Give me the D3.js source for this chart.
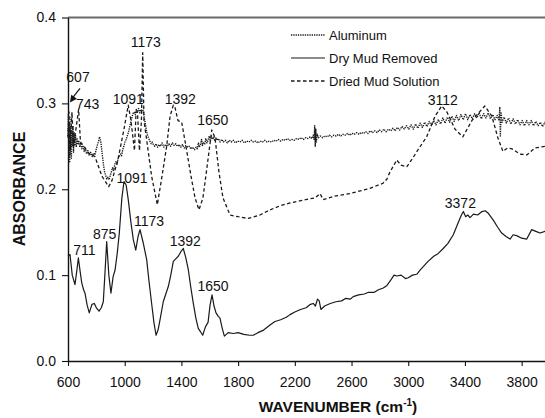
<!DOCTYPE html>
<html>
<head>
<meta charset="utf-8">
<script src="https://cdn.jsdelivr.net/npm/d3@7"></script>
<style>
  html, body { margin: 0; padding: 0; background: #fff; }
  svg { display: block; }
  text { font-family: "Liberation Sans", Arial, sans-serif; fill: #111; }
</style>
</head>
<body>
<svg id="chart" width="545" height="418"></svg>
<script>
// FTIR absorbance spectra: [wavenumber (cm-1), absorbance]
const aluminum = [
  [600,0.262],[603,0.288],[606,0.238],[609,0.279],[612,0.232],[615,0.272],[618,0.247],[621,0.284],[624,0.236],[627,0.268],
  [631,0.25],[635,0.274],[639,0.243],[643,0.266],[648,0.252],[653,0.263],[658,0.249],[664,0.26],[670,0.252],[676,0.257],
  [683,0.249],[690,0.254],[698,0.247],[706,0.251],[714,0.244],[722,0.248],[731,0.241],[740,0.245],[750,0.239],[760,0.243],
  [770,0.238],[780,0.242],[790,0.24],[800,0.247],[808,0.252],[816,0.256],[822,0.261],[828,0.258],[834,0.252],[842,0.24],
  [850,0.229],[858,0.22],[866,0.216],[874,0.212],[882,0.214],[890,0.211],[898,0.216],[906,0.22],[914,0.225],[922,0.222],
  [930,0.229],[938,0.232],[946,0.229],[954,0.236],[962,0.238],[970,0.241],[978,0.239],[986,0.246],[994,0.25],[1002,0.255],
  [1010,0.258],[1018,0.262],[1026,0.266],[1034,0.272],[1042,0.278],[1050,0.283],[1058,0.288],[1066,0.29],[1074,0.287],[1082,0.293],
  [1090,0.29],[1098,0.294],[1106,0.289],[1114,0.293],[1122,0.291],[1130,0.292],[1138,0.283],[1146,0.276],[1154,0.268],[1162,0.262],
  [1170,0.259],[1178,0.256],[1186,0.253],[1194,0.255],[1202,0.252],[1212,0.25],[1222,0.253],[1232,0.249],[1242,0.252],[1252,0.25],
  [1264,0.254],[1276,0.249],[1288,0.252],[1300,0.25],[1312,0.253],[1324,0.25],[1336,0.254],[1348,0.251],[1360,0.253],[1372,0.25],
  [1384,0.252],[1396,0.249],[1408,0.252],[1420,0.248],[1432,0.251],[1444,0.249],[1456,0.25],[1468,0.247],[1480,0.249],[1492,0.246],
  [1504,0.249],[1512,0.247],[1520,0.254],[1526,0.249],[1534,0.252],[1542,0.258],[1548,0.251],[1556,0.255],[1564,0.252],[1572,0.259],
  [1580,0.254],[1588,0.257],[1596,0.262],[1604,0.256],[1612,0.262],[1620,0.258],[1628,0.261],[1636,0.256],[1644,0.26],[1652,0.257],
  [1662,0.259],[1672,0.255],[1684,0.258],[1696,0.255],[1710,0.257],[1724,0.254],[1738,0.257],[1752,0.255],[1766,0.257],[1780,0.254],
  [1796,0.256],[1812,0.255],[1828,0.257],[1844,0.254],[1860,0.256],[1876,0.255],[1892,0.257],[1908,0.255],[1924,0.256],[1940,0.254],
  [1956,0.256],[1972,0.255],[1988,0.257],[2004,0.255],[2020,0.256],[2036,0.255],[2052,0.257],[2068,0.256],[2084,0.258],[2100,0.256],
  [2116,0.258],[2132,0.257],[2148,0.259],[2164,0.257],[2180,0.258],[2196,0.257],[2212,0.259],[2228,0.258],[2244,0.26],[2260,0.258],
  [2276,0.26],[2292,0.259],[2308,0.261],[2320,0.259],[2330,0.263],[2336,0.258],[2340,0.274],[2344,0.25],[2348,0.27],[2352,0.255],
  [2358,0.264],[2366,0.26],[2380,0.262],[2396,0.26],[2412,0.262],[2428,0.261],[2444,0.263],[2460,0.261],[2476,0.263],[2492,0.262],
  [2508,0.264],[2524,0.262],[2540,0.264],[2556,0.263],[2572,0.265],[2588,0.263],[2604,0.265],[2620,0.264],[2636,0.266],[2652,0.264],
  [2668,0.266],[2684,0.265],[2700,0.267],[2716,0.265],[2732,0.268],[2748,0.266],[2764,0.268],[2780,0.266],[2796,0.269],[2812,0.267],
  [2828,0.27],[2844,0.267],[2860,0.27],[2876,0.268],[2892,0.271],[2908,0.268],[2924,0.272],[2940,0.269],[2956,0.273],[2972,0.27],
  [2988,0.274],[3004,0.27],[3020,0.275],[3036,0.27],[3052,0.276],[3068,0.271],[3084,0.277],[3100,0.272],[3116,0.278],[3132,0.273],
  [3148,0.279],[3164,0.274],[3180,0.28],[3196,0.275],[3212,0.281],[3228,0.276],[3244,0.283],[3260,0.277],[3276,0.284],[3292,0.278],
  [3308,0.285],[3324,0.279],[3340,0.286],[3356,0.28],[3372,0.287],[3388,0.281],[3404,0.288],[3420,0.281],[3436,0.287],[3452,0.282],
  [3468,0.288],[3484,0.283],[3500,0.289],[3516,0.282],[3532,0.288],[3548,0.283],[3564,0.289],[3580,0.282],[3596,0.287],[3612,0.281],
  [3628,0.286],[3640,0.28],[3646,0.296],[3650,0.262],[3655,0.29],[3662,0.278],[3676,0.284],[3692,0.277],[3708,0.283],[3724,0.276],
  [3740,0.282],[3756,0.276],[3772,0.281],[3788,0.275],[3804,0.28],[3820,0.274],[3836,0.28],[3852,0.275],[3868,0.28],[3884,0.274],
  [3900,0.279],[3916,0.274],[3932,0.278],[3948,0.273],[3964,0.278],[3980,0.274],[4000,0.277]
];

const dryMudRemoved = [
  [600,0.122],[614,0.124],[630,0.1],[649,0.089],[662,0.105],[673,0.12],[685,0.105],[697,0.091],[710,0.083],[720,0.079],
  [735,0.065],[750,0.056],[769,0.066],[786,0.067],[800,0.062],[819,0.058],[835,0.062],[849,0.069],[860,0.1],[873,0.139],
  [888,0.1],[903,0.079],[918,0.098],[932,0.106],[947,0.125],[962,0.149],[980,0.19],[995,0.209],[1010,0.205],[1025,0.188],
  [1045,0.16],[1061,0.141],[1078,0.129],[1094,0.145],[1108,0.153],[1130,0.138],[1155,0.118],[1172,0.092],[1190,0.067],[1206,0.045],
  [1221,0.03],[1235,0.036],[1249,0.048],[1272,0.069],[1290,0.078],[1308,0.087],[1325,0.1],[1343,0.116],[1360,0.119],[1378,0.122],
  [1395,0.127],[1413,0.131],[1430,0.121],[1449,0.106],[1466,0.086],[1484,0.067],[1502,0.05],[1519,0.038],[1535,0.034],[1550,0.03],
  [1570,0.04],[1588,0.045],[1602,0.065],[1616,0.077],[1630,0.064],[1644,0.056],[1660,0.052],[1672,0.05],[1688,0.038],[1703,0.029],
  [1730,0.033],[1766,0.032],[1800,0.033],[1840,0.031],[1880,0.03],[1907,0.03],[1940,0.033],[1980,0.036],[2025,0.042],[2060,0.046],
  [2100,0.048],[2140,0.051],[2166,0.054],[2200,0.057],[2240,0.06],[2280,0.062],[2310,0.066],[2330,0.067],[2345,0.064],[2360,0.072],
  [2372,0.07],[2384,0.06],[2410,0.064],[2450,0.067],[2490,0.069],[2530,0.07],[2560,0.073],[2590,0.072],[2612,0.075],[2650,0.077],
  [2690,0.078],[2720,0.08],[2760,0.08],[2790,0.083],[2824,0.085],[2850,0.088],[2880,0.095],[2900,0.1],[2919,0.099],[2950,0.1],
  [2980,0.096],[3000,0.097],[3030,0.1],[3060,0.101],[3085,0.106],[3106,0.11],[3140,0.116],[3180,0.122],[3210,0.125],[3247,0.131],
  [3280,0.137],[3318,0.147],[3350,0.16],[3375,0.17],[3389,0.174],[3405,0.168],[3420,0.17],[3436,0.167],[3460,0.171],[3490,0.17],
  [3520,0.174],[3542,0.175],[3565,0.172],[3600,0.164],[3630,0.156],[3659,0.149],[3690,0.145],[3718,0.142],[3740,0.147],[3765,0.146],
  [3800,0.143],[3836,0.142],[3871,0.153],[3900,0.151],[3930,0.149],[3965,0.151],[4000,0.15]
];

const driedMudSolution = [
  [600,0.26],[607,0.29],[614,0.24],[628,0.29],[639,0.25],[656,0.27],[675,0.293],[688,0.255],[713,0.25],[746,0.242],
  [790,0.238],[840,0.215],[887,0.203],[910,0.21],[953,0.235],[995,0.27],[1025,0.298],[1044,0.28],[1069,0.245],[1080,0.29],
  [1090,0.29],[1104,0.245],[1118,0.28],[1127,0.359],[1136,0.28],[1157,0.255],[1190,0.215],[1230,0.182],[1263,0.215],[1296,0.25],
  [1320,0.285],[1343,0.298],[1355,0.295],[1376,0.28],[1402,0.278],[1432,0.25],[1468,0.215],[1496,0.19],[1524,0.176],[1552,0.19],
  [1580,0.225],[1614,0.269],[1637,0.26],[1665,0.22],[1693,0.19],[1743,0.17],[1800,0.168],[1870,0.166],[1954,0.17],[2025,0.176],
  [2100,0.181],[2166,0.184],[2250,0.187],[2343,0.19],[2378,0.195],[2399,0.188],[2480,0.192],[2589,0.195],[2660,0.198],[2730,0.201],
  [2822,0.207],[2850,0.212],[2871,0.22],[2919,0.234],[2949,0.228],[2989,0.226],[3027,0.235],[3069,0.246],[3130,0.261],[3189,0.285],
  [3236,0.297],[3273,0.29],[3330,0.27],[3385,0.261],[3449,0.28],[3540,0.297],[3590,0.285],[3632,0.26],[3668,0.244],[3700,0.248],
  [3732,0.247],[3788,0.241],[3836,0.24],[3894,0.248],[3965,0.25],[4000,0.249]
];

// band labels: text, anchor (wavenumber, absorbance) and a small pixel nudge
const peakLabels = [
  { text: "607",  wn: 607,  ab: 0.325, dx: 9,  dy: 0 },
  { text: "743",  wn: 675,  ab: 0.293, dx: 9,  dy: 0 },
  { text: "1173", wn: 1127, ab: 0.359, dx: 3,  dy: -6 },
  { text: "1091", wn: 1025, ab: 0.298, dx: 0,  dy: -1 },
  { text: "1392", wn: 1343, ab: 0.298, dx: 7,  dy: -1 },
  { text: "1650", wn: 1614, ab: 0.269, dx: 1,  dy: -5 },
  { text: "3112", wn: 3236, ab: 0.297, dx: 1,  dy: -1 },
  { text: "711",  wn: 673,  ab: 0.12,  dx: 6,  dy: -3 },
  { text: "875",  wn: 873,  ab: 0.139, dx: -2, dy: -3 },
  { text: "1091", wn: 995,  ab: 0.209, dx: 8,  dy: 1 },
  { text: "1173", wn: 1108, ab: 0.153, dx: 9,  dy: -4 },
  { text: "1392", wn: 1413, ab: 0.131, dx: 2,  dy: -3 },
  { text: "1650", wn: 1616, ab: 0.077, dx: 1,  dy: -4 },
  { text: "3372", wn: 3389, ab: 0.174, dx: -3, dy: -4 }
];

const seriesNames = ["Aluminum", "Dry Mud Removed", "Dried Mud Solution"];
const xTicks = [600, 1000, 1400, 1800, 2200, 2600, 3000, 3400, 3800];
const yTicks = [0.0, 0.1, 0.2, 0.3, 0.4];

const svg = d3.select("#chart");
const x = d3.scaleLinear().domain([600, 4000]).range([68, 550]);
const y = d3.scaleLinear().domain([0, 0.4]).range([361, 17.5]);

// frame: top border
svg.append("line")
  .attr("x1", 68).attr("x2", 550).attr("y1", y(0.4)).attr("y2", y(0.4))
  .attr("stroke", "#6a6a6a").attr("stroke-width", 1.8);

// axes
const xAxis = svg.append("g").attr("transform", `translate(0,${y(0)})`)
  .call(d3.axisBottom(x).tickValues(xTicks).tickFormat(d3.format("d")).tickSize(5).tickSizeOuter(0));
const yAxis = svg.append("g").attr("transform", `translate(${x(600)},0)`)
  .call(d3.axisLeft(y).tickValues(yTicks).tickFormat(d3.format(".1f")).tickSize(6).tickSizeOuter(0));
[xAxis, yAxis].forEach(g => {
  g.select(".domain").attr("stroke", "#111").attr("stroke-width", 1.4);
  g.selectAll(".tick line").attr("stroke", "#111").attr("stroke-width", 1.1);
  g.selectAll(".tick text").attr("font-size", 14).attr("fill", "#111")
    .attr("font-family", "Liberation Sans, Arial, sans-serif");
});
xAxis.selectAll(".tick text").attr("dy", "1.25em");
yAxis.selectAll(".tick text").attr("x", -12);

// spectra
const line = d3.line().x(d => x(d[0])).y(d => y(d[1]));
const styles = {
  "Aluminum": { dash: "1.3,1", width: 1.35 },
  "Dry Mud Removed": { dash: null, width: 1.2 },
  "Dried Mud Solution": { dash: "3.5,2.5", width: 1.3 }
};
const seriesData = [aluminum, dryMudRemoved, driedMudSolution];
seriesNames.forEach((name, i) => {
  svg.append("path").datum(seriesData[i])
    .attr("d", line)
    .attr("fill", "none")
    .attr("stroke", "#1a1a1a")
    .attr("stroke-width", styles[name].width)
    .attr("stroke-dasharray", styles[name].dash)
    .attr("stroke-linejoin", "round");
});

// band labels
const labelG = svg.append("g").attr("font-size", 14);
peakLabels.forEach(p => {
  labelG.append("text")
    .attr("x", x(p.wn) + p.dx).attr("y", y(p.ab) + p.dy)
    .attr("text-anchor", "middle")
    .text(p.text);
});

// arrow pointing from the 607 label to its band
const tip = [x(607) + 1, y(0.301)];
const tail = [x(607) + 11, y(0.322) + 4];
svg.append("line")
  .attr("x1", tail[0]).attr("y1", tail[1]).attr("x2", tip[0] + 2).attr("y2", tip[1] - 4)
  .attr("stroke", "#111").attr("stroke-width", 1.2);
const ang = Math.atan2(tip[1] - tail[1], tip[0] - tail[0]);
const hl = 7, hw = 3.5;
const back = [tip[0] - hl * Math.cos(ang), tip[1] - hl * Math.sin(ang)];
svg.append("path")
  .attr("d", `M${tip[0]},${tip[1]} L${back[0] + hw * Math.sin(ang)},${back[1] - hw * Math.cos(ang)} L${back[0] - hw * Math.sin(ang)},${back[1] + hw * Math.cos(ang)} Z`)
  .attr("fill", "#111");

// legend
const legend = svg.append("g").attr("transform", "translate(291,0)");
seriesNames.forEach((name, i) => {
  const ly = 35 + i * 23;
  legend.append("line")
    .attr("x1", 0).attr("x2", 34).attr("y1", ly).attr("y2", ly)
    .attr("stroke", "#1a1a1a").attr("stroke-width", styles[name].width)
    .attr("stroke-dasharray", styles[name].dash);
  legend.append("text")
    .attr("x", 38).attr("y", ly + 5)
    .attr("font-size", 13)
    .text(name);
});

// axis titles
svg.append("text")
  .attr("transform", "translate(25,189) rotate(-90)")
  .attr("text-anchor", "middle")
  .attr("font-size", 16).attr("font-weight", "bold")
  .text("ABSORBANCE");

const xt = svg.append("text")
  .attr("x", 338).attr("y", 412)
  .attr("text-anchor", "middle")
  .attr("font-size", 15.5).attr("font-weight", "bold");
xt.append("tspan").text("WAVENUMBER (cm");
xt.append("tspan").attr("dy", -6).attr("font-size", 10).text("-1");
xt.append("tspan").attr("dy", 6).text(")");
</script>
</body>
</html>
